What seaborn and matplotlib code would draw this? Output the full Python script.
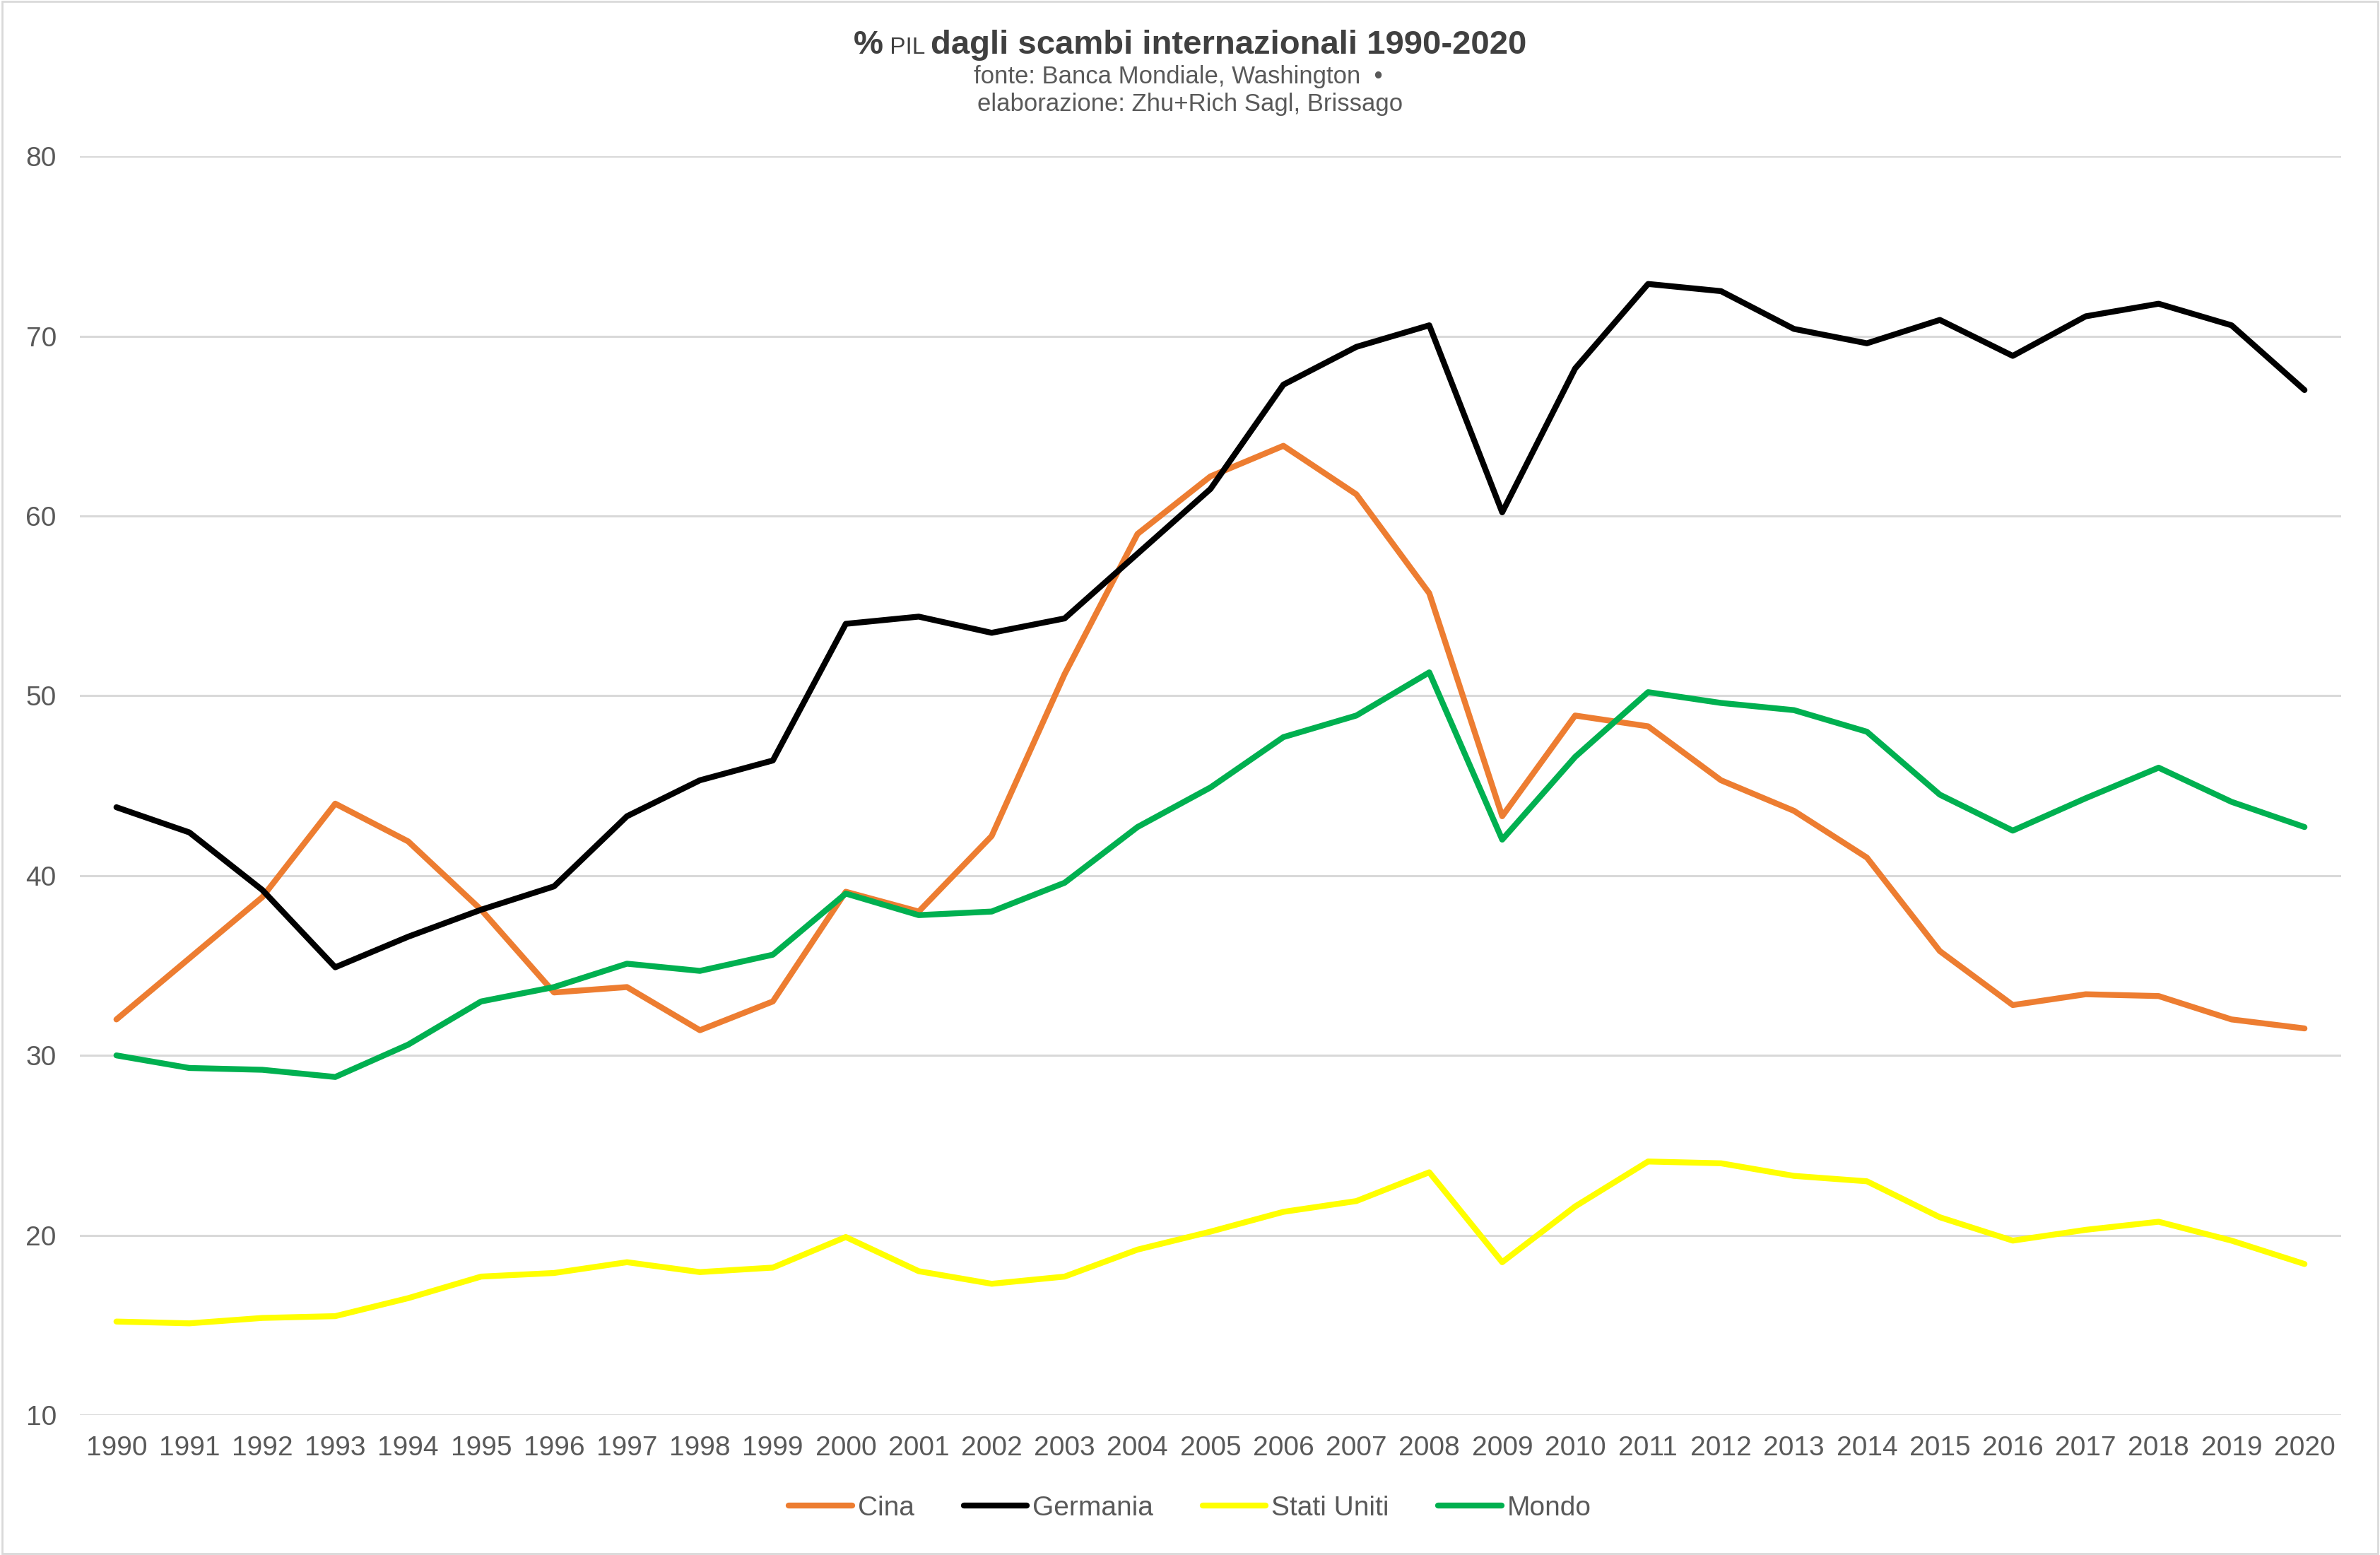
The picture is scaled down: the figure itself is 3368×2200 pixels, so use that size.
import pandas as pd
import seaborn as sns
import matplotlib.pyplot as plt
from matplotlib.patches import Rectangle

# values (% of GDP)
years = list(range(1990, 2021))
cina = [32.0, 35.4, 38.8, 44.0, 41.9, 38.1, 33.5, 33.8, 31.4, 33.0,
        39.1, 38.0, 42.2, 51.2, 59.0, 62.2, 63.9, 61.2, 55.7, 43.3,
        48.9, 48.3, 45.3, 43.6, 41.0, 35.8, 32.8, 33.4, 33.3, 32.0, 31.5]
germania = [43.8, 42.4, 39.2, 34.9, 36.6, 38.1, 39.4, 43.3, 45.3, 46.4,
            54.0, 54.4, 53.5, 54.3, 57.9, 61.5, 67.3, 69.4, 70.6, 60.2,
            68.2, 72.9, 72.5, 70.4, 69.6, 70.9, 68.9, 71.1, 71.8, 70.6, 67.0]
stati_uniti = [15.2, 15.1, 15.4, 15.5, 16.5, 17.7, 17.9, 18.5, 17.95, 18.2,
               19.9, 18.0, 17.3, 17.7, 19.2, 20.2, 21.3, 21.9, 23.5, 18.5,
               21.6, 24.1, 24.0, 23.3, 23.0, 21.0, 19.7, 20.3, 20.75, 19.7, 18.4]
mondo = [30.0, 29.3, 29.2, 28.8, 30.6, 33.0, 33.8, 35.1, 34.7, 35.6,
         39.0, 37.8, 38.0, 39.6, 42.7, 44.9, 47.7, 48.9, 51.3, 42.0,
         46.6, 50.2, 49.6, 49.2, 48.0, 44.5, 42.5, 44.3, 46.0, 44.1, 42.7]

series_names = ["Cina", "Germania", "Stati Uniti", "Mondo"]
series_colors = ["#ED7D31", "#000000", "#FFFF00", "#00B050"]

df = pd.concat([
    pd.DataFrame({"anno": years, "valore": vals, "paese": name})
    for name, vals in zip(series_names, [cina, germania, stati_uniti, mondo])
])

sns.set_theme(style="white")
plt.rcParams["font.family"] = ["Liberation Sans", "DejaVu Sans"]

text_grey = "#595959"
fig = plt.figure(figsize=(33.68, 22.0), dpi=100)
ax = fig.add_axes([0.0336, 0.0900, 0.9500, 0.8095])

sns.lineplot(data=df, x="anno", y="valore", hue="paese",
             palette=dict(zip(series_names, series_colors)),
             hue_order=series_names, linewidth=6, ax=ax, legend=False,
             solid_joinstyle="round", solid_capstyle="round")

ax.set_xlim(1989.5, 2020.5)
ax.set_ylim(10, 80)
ax.set_xticks(years)
ax.set_xticklabels([str(y) for y in years])
ax.set_yticks(range(10, 81, 10))
ax.set_xlabel("")
ax.set_ylabel("")
ax.grid(axis="y", color="#D9D9D9", linewidth=2.2)
ax.set_axisbelow(True)
for s in ax.spines.values():
    s.set_visible(False)
ax.tick_params(axis="x", length=0, pad=21, labelsize=28, labelcolor=text_grey)
ax.tick_params(axis="y", length=0, pad=24, labelsize=28, labelcolor=text_grey)

# legend
handles = [plt.Line2D([], [], color=c, linewidth=6, solid_capstyle="round")
           for c in series_colors]
fig.legend(handles, series_names, loc="center", bbox_to_anchor=(0.5, 0.030),
           ncol=4, frameon=False, fontsize=28, labelcolor=text_grey,
           handlelength=2.3, handletextpad=0.2, columnspacing=1.8)

# title built from pieces: "%" bold, "PIL" small, rest bold
renderer = fig.canvas.get_renderer()
pieces = [("%", "bold", 34), (" PIL ", "normal", 24),
          ("dagli scambi internazionali 1990-2020", "bold", 34)]
texts = []
for s, w, fs in pieces:
    t = fig.text(0, 0.9655, s, fontsize=fs, fontweight=w, color="#404040",
                 ha="left", va="baseline")
    texts.append(t)
widths = [t.get_window_extent(renderer).width for t in texts]
total = sum(widths)
x0 = (fig.bbox.width - total) / 2
for t, w in zip(texts, widths):
    t.set_x(x0 / fig.bbox.width)
    x0 += w

fig.text(0.495, 0.9505, "fonte: Banca Mondiale, Washington  \u2022",
         ha="center", va="center", fontsize=25, color=text_grey)
fig.text(0.5, 0.9330, "elaborazione: Zhu+Rich Sagl, Brissago",
         ha="center", va="center", fontsize=25, color=text_grey)

# light frame around the chart
fig.patches.append(Rectangle((0.001, 0.001), 0.998, 0.998, transform=fig.transFigure,
                             fill=False, edgecolor="#D9D9D9", linewidth=2))

fig.savefig("out.png", dpi=100)
